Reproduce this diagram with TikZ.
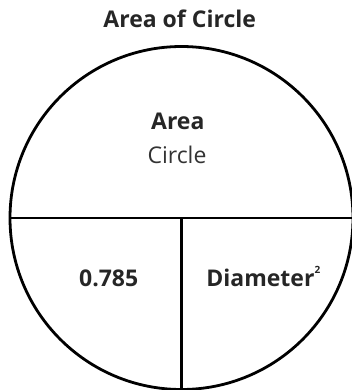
\documentclass[tikz,border=0pt]{standalone}
\usepackage{fontspec}
\setmainfont{Open Sans}
\usepackage{tikz}

\begin{document}
\begin{tikzpicture}[x=1pt,y=-1pt,
  partline/.style={line width=2.8pt,black},
  boldlbl/.style={font=\fontsize{23}{26}\selectfont\bfseries,text=black!85,inner sep=0pt,anchor=base},
  plainlbl/.style={font=\fontsize{23}{26}\selectfont,text=black!80,inner sep=0pt,anchor=base}]

% ---------------- parameters ----------------
\pgfmathsetmacro{\CircR}{171.5}     % radius of the circle
\useasboundingbox (0,0) rectangle (352,390);

\coordinate (O) at (181.5,218);
\coordinate (L) at (181.5-\CircR,218);
\coordinate (R) at (181.5+\CircR,218);
\coordinate (B) at (181.5,218+\CircR);

% ---------------- circle and its parts ----------------
\draw[partline] (O) circle (\CircR);
\draw[partline] (L) -- (R);
\draw[partline] (O) -- (B);

% ---------------- labels ----------------
\node[boldlbl] (title) at (179.7,27.7) {Area of Circle};
\node[boldlbl] (areaLbl) at (177.8,129.3) {Area};
\node[plainlbl] (circleLbl) at (177,164) {Circle};
\node[boldlbl] (constLbl) at (108.7,286.5) {0.785};
\node[boldlbl] (diamLbl) at (263.3,286.5) {Diameter\raisebox{1.05ex}{\fontsize{10}{10}\selectfont 2}};

\end{tikzpicture}
\end{document}
